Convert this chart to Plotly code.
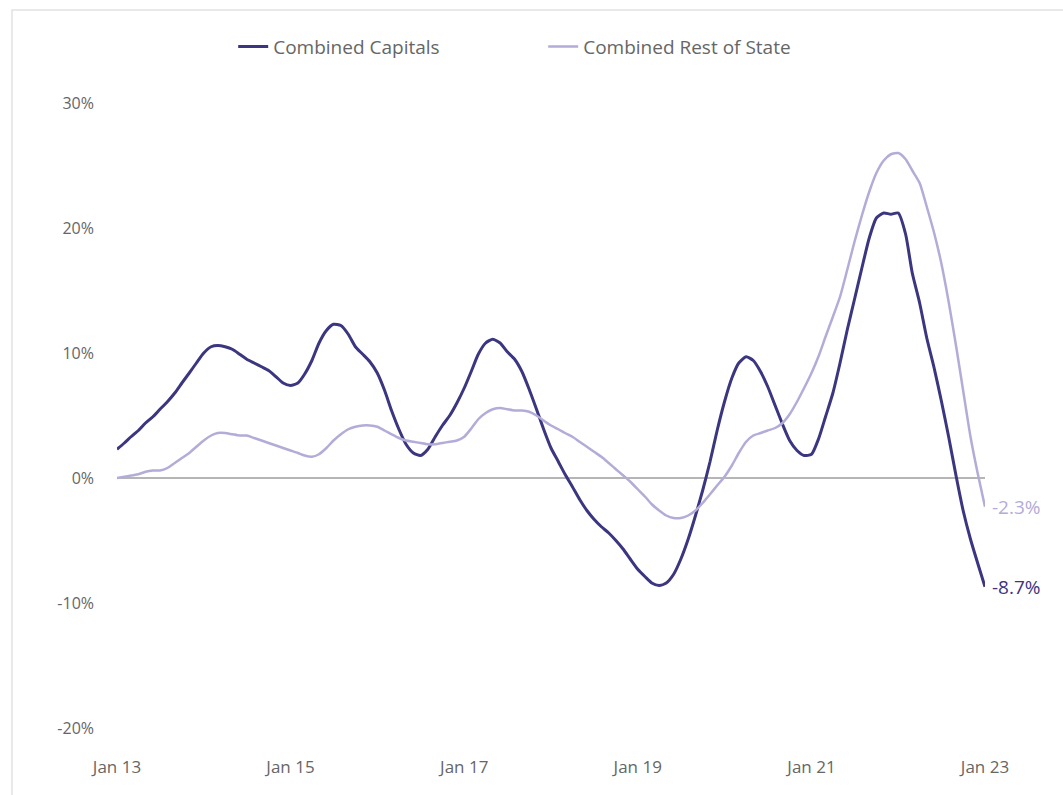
import plotly.graph_objects as go
import pandas as pd

# Monthly dates Jan 2013 .. Jan 2023
dates = pd.date_range("2013-01-01", "2023-01-01", freq="MS")

capitals = [
    2.3, 2.8, 3.3, 3.8, 4.4, 4.9, 5.5, 6.1, 6.8, 7.6, 8.4, 9.2, 10.0, 10.5, 10.6, 10.5, 10.3, 9.9, 9.5, 9.2,
    8.9, 8.6, 8.1, 7.6, 7.4, 7.6, 8.3, 9.4, 10.8, 11.8, 12.3, 12.2, 11.5, 10.5, 9.9, 9.3, 8.4, 7.0, 5.4, 3.9,
    2.7, 2.0, 1.8, 2.3, 3.3, 4.2, 5.0, 6.0, 7.2, 8.6, 9.9, 10.8, 11.1, 10.8, 10.1, 9.5, 8.5, 7.1, 5.5, 3.9,
    2.4, 1.3, 0.3, -0.7, -1.7, -2.6, -3.3, -3.9, -4.4, -5.0, -5.7, -6.5, -7.3, -7.9, -8.4, -8.6, -8.4, -7.7, -6.5, -4.9,
    -3.0, -1.0, 1.3, 3.8, 6.1, 8.0, 9.2, 9.7, 9.4, 8.5, 7.3, 5.8, 4.3, 3.0, 2.2, 1.8, 1.9, 3.2, 4.9, 6.8,
    9.2, 11.9, 14.3, 16.8, 19.2, 20.8, 21.2, 21.1, 21.2, 19.5, 16.4, 14.0, 11.2, 8.8, 6.2, 3.3, 0.2, -2.6, -4.9, -6.8,
    -8.7,
]

rest_of_state = [
    0.0, 0.1, 0.2, 0.3, 0.5, 0.6, 0.6, 0.8, 1.2, 1.6, 2.0, 2.5, 3.0, 3.4, 3.6, 3.6, 3.5, 3.4, 3.4, 3.2,
    3.0, 2.8, 2.6, 2.4, 2.2, 2.0, 1.8, 1.7, 1.9, 2.4, 3.0, 3.5, 3.9, 4.1, 4.2, 4.2, 4.1, 3.8, 3.5, 3.2,
    3.0, 2.9, 2.8, 2.7, 2.7, 2.8, 2.9, 3.0, 3.3, 4.0, 4.7, 5.2, 5.5, 5.6, 5.5, 5.4, 5.4, 5.3, 5.0, 4.6,
    4.2, 3.9, 3.6, 3.3, 2.9, 2.5, 2.1, 1.7, 1.2, 0.7, 0.2, -0.3, -0.9, -1.5, -2.1, -2.6, -3.0, -3.2, -3.2, -3.0,
    -2.6, -2.0, -1.3, -0.6, 0.1, 1.0, 2.0, 2.9, 3.4, 3.6, 3.8, 4.0, 4.4, 5.1, 6.1, 7.2, 8.4, 9.8, 11.3, 12.9,
    14.5, 16.7, 18.9, 21.0, 22.9, 24.4, 25.4, 25.9, 26.0, 25.5, 24.6, 23.6, 21.7, 19.6, 17.2, 14.1, 10.6, 7.0, 3.3, 0.4,
    -2.3,
]

tick_dates = ["2013-01-01", "2015-01-01", "2017-01-01", "2019-01-01", "2021-01-01", "2023-01-01"]
tick_labels = ["Jan 13", "Jan 15", "Jan 17", "Jan 19", "Jan 21", "Jan 23"]
y_ticks = [-20, -10, 0, 10, 20, 30]
y_labels = ["-20%", "-10%", "0%", "10%", "20%", "30%"]

DARK = "#3b3680"
LIGHT = "#b3acd8"
FONT = "Open Sans"

fig = go.Figure()
fig.add_trace(go.Scatter(x=dates, y=capitals, mode="lines", name="Combined Capitals",
                         line=dict(color=DARK, width=3, shape="spline", smoothing=0.6)))
fig.add_trace(go.Scatter(x=dates, y=rest_of_state, mode="lines", name="Combined Rest of State",
                         line=dict(color=LIGHT, width=2.5, shape="spline", smoothing=0.6)))

for series, color in [(rest_of_state, LIGHT), (capitals, DARK)]:
    fig.add_annotation(x=dates[-1], y=series[-1], text=f"{series[-1]:.1f}%", showarrow=False,
                       xanchor="left", yanchor="middle", xshift=5,
                       font=dict(family=FONT, size=19, color=color))

fig.add_shape(type="rect", xref="paper", yref="paper", x0=-0.121, x1=1.2, y0=-0.3, y1=1.149,
              line=dict(color="#e2e2e2", width=1.5), fillcolor="rgba(0,0,0,0)", layer="below")

fig.update_layout(
    width=1063, height=795,
    margin=dict(l=117, r=78, t=103, b=67),
    paper_bgcolor="white", plot_bgcolor="white",
    font=dict(family=FONT, size=16, color="#666666"),
    showlegend=True,
    legend=dict(orientation="h", x=0.491, xanchor="center", y=1.09, yanchor="middle",
                entrywidth=265, entrywidthmode="pixels",
                font=dict(family=FONT, size=19, color="#666666")),
    xaxis=dict(range=[dates[0], dates[-1]], tickvals=tick_dates, ticktext=tick_labels,
               showgrid=False, zeroline=False, showline=False, ticks="", ticklabelstandoff=27,
               tickfont=dict(size=17)),
    yaxis=dict(range=[-20, 30], tickvals=y_ticks, ticktext=y_labels, showgrid=False,
               zeroline=True, zerolinecolor="#b5b5b5", zerolinewidth=2, showline=False,
               ticks="", ticklabelstandoff=22),
)

fig.write_html("out.html")
